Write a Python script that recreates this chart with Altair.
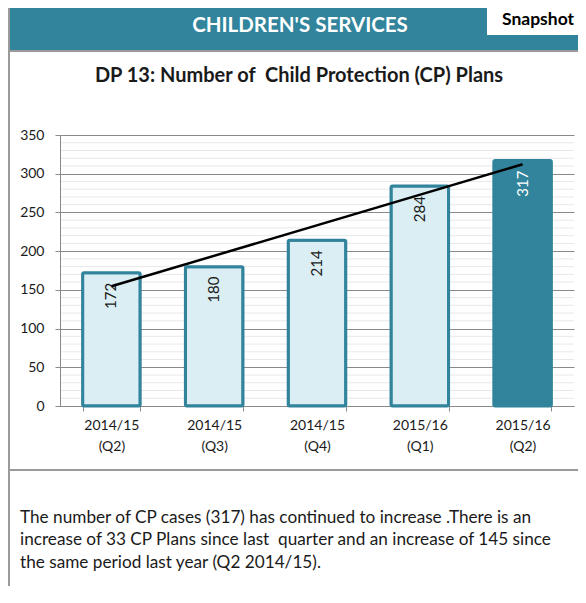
import altair as alt
import pandas as pd

# ---------------- data ----------------
periods = ["2014/15 (Q2)", "2014/15 (Q3)", "2014/15 (Q4)", "2015/16 (Q1)", "2015/16 (Q2)"]
values = [172, 180, 214, 284, 317]
is_current = [False, False, False, False, True]
position = [0, 1, 2, 3, 4]

header_text = "CHILDREN'S SERVICES"
badge_text = "Snapshot"
title_text = "DP 13: Number of\u00a0 Child Protection (CP) Plans"
commentary = [
    "The number of CP cases (317) has continued to increase .There is an",
    "increase of 33 CP Plans since last\u00a0 quarter and an increase of 145 since",
    "the same period last year (Q2 2014/15).",
]

# ---------------- style ----------------
TEAL = "#31849B"
LIGHT = "#DAEEF3"
GRID = "#8a8a8a"
MINOR = "#e8e8e8"
INK = "#1a1a1a"
FONT = "Lato"
W, H = 514, 271

df = pd.DataFrame(dict(period=periods, value=values, current=is_current, idx=position))
one = pd.DataFrame({"k": [0]})

y_scale = alt.Scale(domain=[0, 350], nice=False, zero=True)
y_axis = alt.Axis(
    title=None, values=list(range(0, 351, 50)), grid=True, gridColor=GRID,
    gridWidth=1, domainColor=GRID, tickColor=GRID, tickSize=5,
    labelFont=FONT, labelFontSize=14, labelColor=INK, labelPadding=11,
)
Y = alt.Y("value:Q", scale=y_scale, axis=y_axis)

x_scale = alt.Scale(paddingInner=0.44, paddingOuter=0.22)
x_axis = alt.Axis(
    title=None, labelAngle=0, labelExpr="split(datum.label, ' ')",
    tickBand="extent", tickSize=5, tickColor=GRID, domainColor=GRID,
    labelFont=FONT, labelFontSize=14, labelColor=INK, labelPadding=7,
    labelLineHeight=21, labelBaseline="top", grid=False,
)

minor = (
    alt.Chart(alt.sequence(0, 351, 10, as_="value"))
    .transform_filter("datum.value % 50 != 0")
    .mark_rule(color=MINOR, strokeWidth=1)
    .encode(y=Y, x=alt.value(1), x2=alt.value(W))
)

bars = (
    alt.Chart(df)
    .mark_bar(stroke=TEAL, strokeWidth=3, cornerRadius=1.5)
    .encode(
        x=alt.X("period:N", sort=periods, scale=x_scale, axis=x_axis),
        y=Y,
        fill=alt.condition("datum.current", alt.value(TEAL), alt.value(LIGHT)),
    )
)

labels = (
    alt.Chart(df)
    .mark_text(angle=270, align="right", baseline="middle", dx=-10, font=FONT, fontSize=15)
    .encode(
        x=alt.X("period:N", sort=periods, scale=x_scale, axis=None),
        y=Y,
        text="value:Q",
        color=alt.condition("datum.current", alt.value("white"), alt.value(INK)),
    )
)

trend = (
    alt.Chart(df)
    .transform_regression("idx", "value")
    .mark_line(color="black", strokeWidth=2.5)
    .encode(
        x=alt.X("idx:Q", scale=alt.Scale(domain=[-0.5, 4.5], nice=False, zero=False), axis=None),
        y=Y,
    )
)

# ---------------- page furniture (pixel positions relative to plot area) ----------------
band = alt.Chart(one).mark_rect(color=TEAL).encode(
    x=alt.value(-52), x2=alt.value(W + 4), y=alt.value(-127), y2=alt.value(-85)
)
band_edge = alt.Chart(one).mark_rule(color="#9a9a9a", strokeWidth=2).encode(
    x=alt.value(-52), x2=alt.value(W + 4), y=alt.value(-84)
)
badge_box = alt.Chart(one).mark_rect(color="white").encode(
    x=alt.value(427), x2=alt.value(W + 4), y=alt.value(-127), y2=alt.value(-100)
)
badge = alt.Chart(one).mark_text(
    text=badge_text, font=FONT, fontSize=17.5, fontWeight="bold", color="black",
    align="center", baseline="middle",
).encode(x=alt.value(478), y=alt.value(-115))
header = alt.Chart(one).mark_text(
    text=header_text, font=FONT, fontSize=20.5, fontWeight="bold", color="white",
    align="center", baseline="middle",
).encode(x=alt.value(240), y=alt.value(-109))
title = alt.Chart(one).mark_text(
    text=title_text, font=FONT, fontSize=20, fontWeight="bold", color=INK,
    align="center", baseline="middle",
).encode(x=alt.value(239), y=alt.value(-59))
left_border = alt.Chart(one).mark_rule(color="#9a9a9a", strokeWidth=2).encode(
    x=alt.value(-51), y=alt.value(-127), y2=alt.value(452)
)
separator = alt.Chart(one).mark_rule(color="#9a9a9a", strokeWidth=2).encode(
    x=alt.value(-52), x2=alt.value(W + 4), y=alt.value(335)
)
text_df = pd.DataFrame({"line": commentary, "n": list(range(len(commentary)))})
para = (
    alt.Chart(text_df)
    .transform_calculate(ypix="387.5 + datum.n * 22.5")
    .mark_text(font=FONT, fontSize=17.2, color=INK, align="left", baseline="alphabetic")
    .encode(x=alt.value(-40), y=alt.Y("ypix:Q", scale=None, axis=None), text="line:N")
)

chart = (
    alt.layer(minor, bars, labels, trend, band, band_edge, badge_box, badge, header,
              title, left_border, separator, para)
    .resolve_scale(x="independent")
    .properties(
        width=W, height=H,
        padding={"left": 52, "top": 127, "right": 4, "bottom": 180},
        autosize=alt.AutoSizeParams(type="none"),
    )
    .configure_view(stroke=None)
)

chart.save("out.html", embed_options={"renderer": "svg", "actions": False})
